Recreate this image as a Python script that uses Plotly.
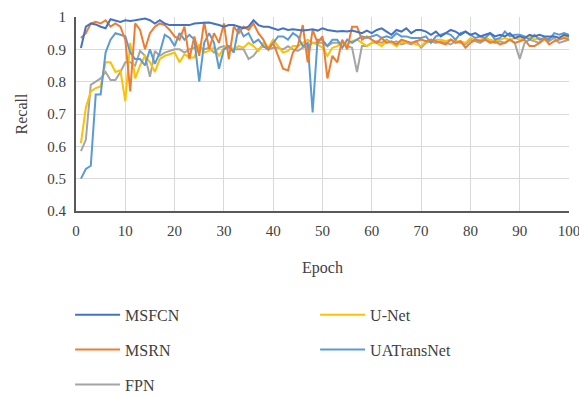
import plotly.graph_objects as go

epochs = list(range(1, 101))

msfcn = [0.904, 0.970, 0.980, 0.977, 0.970, 0.965, 0.993, 0.988, 0.985, 0.990,
         0.988, 0.990, 0.992, 0.995, 0.990, 0.980, 0.990, 0.980, 0.975, 0.975,
         0.977, 0.977, 0.975, 0.980, 0.982, 0.982, 0.983, 0.980, 0.975, 0.970,
         0.975, 0.975, 0.970, 0.965, 0.970, 0.990, 0.975, 0.970, 0.970, 0.965,
         0.960, 0.965, 0.960, 0.962, 0.960, 0.958, 0.960, 0.962, 0.958, 0.965,
         0.960, 0.958, 0.955, 0.957, 0.955, 0.958, 0.955, 0.950, 0.958, 0.950,
         0.960, 0.965, 0.955, 0.945, 0.960, 0.955, 0.965, 0.950, 0.960, 0.960,
         0.955, 0.945, 0.955, 0.940, 0.950, 0.960, 0.955, 0.945, 0.955, 0.945,
         0.950, 0.940, 0.945, 0.950, 0.940, 0.945, 0.940, 0.950, 0.935, 0.940,
         0.935, 0.945, 0.940, 0.945, 0.940, 0.940, 0.940, 0.935, 0.945, 0.940]

msrn = [0.935, 0.950, 0.980, 0.985, 0.980, 0.990, 0.970, 0.980, 0.970, 0.930,
        0.770, 0.980, 0.960, 0.900, 0.950, 0.970, 0.980, 0.975, 0.960, 0.940,
        0.930, 0.970, 0.870, 0.940, 0.880, 0.985, 0.900, 0.950, 0.920, 0.980,
        0.870, 0.970, 0.950, 0.970, 0.960, 0.980, 0.950, 0.930, 0.900, 0.920,
        0.880, 0.840, 0.835, 0.890, 0.910, 0.975, 0.860, 0.960, 0.920, 0.940,
        0.810, 0.880, 0.860, 0.930, 0.900, 0.970, 0.970, 0.930, 0.940, 0.930,
        0.920, 0.935, 0.920, 0.925, 0.915, 0.930, 0.925, 0.920, 0.925, 0.930,
        0.925, 0.930, 0.925, 0.920, 0.915, 0.930, 0.920, 0.925, 0.905, 0.920,
        0.930, 0.925, 0.930, 0.920, 0.925, 0.915, 0.920, 0.930, 0.920, 0.925,
        0.930, 0.910, 0.910, 0.920, 0.935, 0.915, 0.925, 0.930, 0.935, 0.930]

fpn = [0.585, 0.620, 0.790, 0.800, 0.810, 0.830, 0.805, 0.805, 0.830, 0.860,
       0.860, 0.850, 0.895, 0.880, 0.815, 0.895, 0.880, 0.890, 0.895, 0.900,
       0.900, 0.890, 0.900, 0.905, 0.905, 0.900, 0.905, 0.890, 0.905, 0.910,
       0.905, 0.900, 0.900, 0.900, 0.870, 0.880, 0.900, 0.910, 0.900, 0.905,
       0.905, 0.900, 0.910, 0.900, 0.895, 0.905, 0.910, 0.920, 0.920, 0.920,
       0.910, 0.920, 0.920, 0.920, 0.910, 0.905, 0.830, 0.910, 0.910, 0.920,
       0.925, 0.920, 0.930, 0.920, 0.925, 0.915, 0.920, 0.915, 0.925, 0.905,
       0.920, 0.925, 0.920, 0.925, 0.920, 0.915, 0.925, 0.920, 0.915, 0.930,
       0.925, 0.920, 0.930, 0.925, 0.920, 0.925, 0.920, 0.930, 0.920, 0.870,
       0.920, 0.930, 0.925, 0.920, 0.930, 0.925, 0.935, 0.920, 0.925, 0.930]

unet = [0.610, 0.720, 0.770, 0.780, 0.785, 0.860, 0.860, 0.830, 0.835, 0.740,
        0.920, 0.810, 0.850, 0.880, 0.860, 0.830, 0.870, 0.880, 0.885, 0.890,
        0.860, 0.885, 0.875, 0.875, 0.915, 0.890, 0.895, 0.905, 0.880, 0.905,
        0.910, 0.900, 0.910, 0.905, 0.920, 0.910, 0.895, 0.920, 0.905, 0.930,
        0.910, 0.890, 0.895, 0.910, 0.910, 0.920, 0.930, 0.920, 0.915, 0.905,
        0.880, 0.905, 0.910, 0.920, 0.915, 0.925, 0.930, 0.920, 0.910, 0.920,
        0.920, 0.910, 0.925, 0.920, 0.910, 0.925, 0.920, 0.920, 0.915, 0.910,
        0.925, 0.925, 0.930, 0.930, 0.925, 0.930, 0.925, 0.925, 0.920, 0.935,
        0.930, 0.930, 0.935, 0.930, 0.925, 0.930, 0.935, 0.930, 0.935, 0.930,
        0.935, 0.940, 0.930, 0.935, 0.930, 0.935, 0.940, 0.935, 0.940, 0.935]

uatransnet = [0.500, 0.530, 0.540, 0.760, 0.760, 0.890, 0.930, 0.950, 0.945, 0.940,
              0.890, 0.870, 0.870, 0.850, 0.900, 0.855, 0.890, 0.945, 0.935, 0.910,
              0.950, 0.930, 0.945, 0.930, 0.800, 0.920, 0.950, 0.920, 0.840, 0.900,
              0.910, 0.890, 0.970, 0.940, 0.950, 0.920, 0.930, 0.910, 0.900, 0.920,
              0.940, 0.940, 0.930, 0.950, 0.940, 0.910, 0.920, 0.705, 0.930, 0.930,
              0.910, 0.930, 0.930, 0.905, 0.930, 0.920, 0.930, 0.940, 0.935, 0.940,
              0.945, 0.935, 0.940, 0.935, 0.950, 0.940, 0.940, 0.935, 0.935, 0.935,
              0.940, 0.920, 0.940, 0.945, 0.950, 0.945, 0.930, 0.950, 0.955, 0.945,
              0.935, 0.940, 0.935, 0.950, 0.930, 0.935, 0.955, 0.940, 0.945, 0.945,
              0.940, 0.930, 0.945, 0.930, 0.935, 0.930, 0.950, 0.945, 0.950, 0.945]

series = [
    ("MSFCN", msfcn, "#4472C4", "legend", "g1"),
    ("MSRN", msrn, "#ED7D31", "legend", "g2"),
    ("FPN", fpn, "#A5A5A5", "legend", "g3"),
    ("U-Net", unet, "#FFC000", "legend2", "g4"),
    ("UATransNet", uatransnet, "#5B9BD5", "legend2", "g5"),
]

fig = go.Figure()
draw_order = [2, 3, 4, 1, 0]
for i in draw_order:
    name, vals, color, leg, grp = series[i]
    fig.add_trace(go.Scatter(
        x=epochs, y=vals, mode="lines", name=name,
        line=dict(color=color, width=2),
        legend=leg, legendgroup=grp, legendrank=i,
    ))

font_family = "Liberation Serif"
text_color = "#404040"

legend_common = dict(
    orientation="v", yanchor="top", xanchor="left",
    font=dict(family=font_family, size=16, color=text_color),
    bgcolor="rgba(0,0,0,0)", borderwidth=0, tracegroupgap=11,
    itemwidth=45,
)

fig.update_layout(
    width=579, height=397,
    margin=dict(l=76, r=10, t=17, b=186, autoexpand=False),
    paper_bgcolor="white", plot_bgcolor="white",
    font=dict(family=font_family, size=15, color=text_color),
    showlegend=True,
    legend=dict(x=-0.012, y=-0.448, **legend_common),
    legend2=dict(x=0.485, y=-0.448, **legend_common),
    xaxis=dict(
        range=[0, 100], dtick=10, tick0=0,
        showgrid=True, gridcolor="#D9D9D9", gridwidth=1,
        showline=True, linecolor="#595959", linewidth=2,
        zeroline=False, ticks="outside", ticklen=5, tickcolor="rgba(0,0,0,0)",
        ticklabeloverflow="allow",
        tickfont=dict(family=font_family, size=15, color=text_color),
        title=dict(text="Epoch", standoff=24,
                   font=dict(family=font_family, size=16, color=text_color)),
    ),
    yaxis=dict(
        range=[0.4, 1.0], dtick=0.1, tick0=0.4,
        showgrid=True, gridcolor="#D9D9D9", gridwidth=1,
        showline=True, linecolor="#595959", linewidth=2,
        zeroline=False, ticks="outside", ticklen=5, tickcolor="rgba(0,0,0,0)",
        tickfont=dict(family=font_family, size=15, color=text_color),
        title=dict(text="Recall", standoff=16,
                   font=dict(family=font_family, size=16, color=text_color)),
    ),
)

fig.write_html("out.html")
